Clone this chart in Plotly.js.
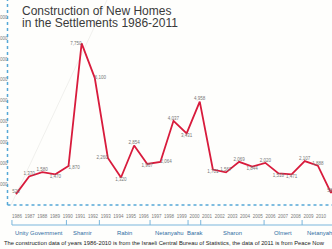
<!DOCTYPE html>
<html>
<head>
<meta charset="utf-8">
<script src="https://cdn.plot.ly/plotly-3.0.1.min.js"></script>
<style>html,body{margin:0;padding:0;background:#fefefc;}#chart{width:332px;height:249px;}</style>
</head>
<body>
<div id="chart"></div>
<script>
// ---- data ----
const years = [1986,1987,1988,1989,1990,1991,1992,1993,1994,1995,1996,1997,1998,1999,2000,2001,2002,2003,2004,2005,2006,2007,2008,2009,2010,2011];
const homes = [520,1370,1580,1470,1870,7750,6100,2260,1320,2854,1967,2064,4037,3431,4958,1701,1567,2069,1844,2020,1518,1471,2107,1888,580,1850];
const tickYears = [1986,1987,1988,1989,1990,1991,1992,1993,1994,1995,1996,1997,1998,1999,2000,2001,2002,2003,2004,2005,2006,2007,2008,2009,2010];
const yTicks = [1000,2000,3000,4000,5000,6000,7000,8000,9000];
const periodNames = ["Unity Government","Shamir","Rabin","Netanyahu","Barak","Sharon","Olmert","Netanyahu"];
const periodBounds = [1985.6,1989.9,1992.5,1996.5,1999.5,2000.5,2005.5,2008.5,2011.5];
const titleLines = ["Construction of New Homes","in the Settlements 1986-2011"];
const caption = "The construction data of years 1986-2010 is from the Israeli Central Bureau of Statistics, the data of 2011 is from Peace Now";

// ---- styles ----
const labelPos = ["top center","top center","top center","bottom center","bottom right","middle left","middle right","middle left","bottom center","top center","bottom center","middle right","top center","bottom center","top center","bottom center","top center","top center","bottom center","top center","bottom center","bottom center","top center","top center","top center","top center"];
const W = 332, PB = 205;
const px = v => v / W;
const py = v => (PB - v) / PB;
const blue = '#55a8d6';
const FONT = 'Liberation Sans, Arial, sans-serif';

const trace = {
  x: years, y: homes, xaxis: 'x2', yaxis: 'y',
  mode: 'lines+text', type: 'scatter',
  line: {color: '#d81b3c', width: 1.8},
  text: homes.map(v => v.toLocaleString('en-US')),
  textposition: labelPos,
  textfont: {family: FONT, size: 4.5, color: '#777'},
  hoverinfo: 'skip', cliponaxis: true
};

const shapes = [
  {type:'line', xref:'paper', yref:'paper', x0:px(11), y0:py(205), x1:px(107), y1:py(0), line:{color:'#f0f0ed', width:1}, layer:'below'},
  {type:'line', xref:'paper', yref:'paper', x0:px(7.5), y0:py(205), x1:px(7.5), y1:1, line:{color:blue, width:1.5, dash:'dot'}},
  {type:'line', xref:'paper', yref:'paper', x0:px(7.5), y0:py(205), x1:1, y1:py(205), line:{color:blue, width:1.5, dash:'dot'}},
  {type:'line', xref:'paper', yref:'paper', x0:px(12), y0:py(225), x1:1, y1:py(225), line:{color:'#7ab6dc', width:1}}
];
periodBounds.slice(0, -1).forEach(b => {
  shapes.push({type:'line', xref:'x', yref:'paper', x0:b, x1:b, y0:py(225), y1:py(220), line:{color:'#7ab6dc', width:1}});
});

const annotations = [
  {text: titleLines[0], xref:'paper', yref:'paper', x:px(20), y:py(11), xanchor:'left', yanchor:'middle', showarrow:false,
   font:{family:FONT, size:12, color:'#3a3a3a'}},
  {text: titleLines[1], xref:'paper', yref:'paper', x:px(20), y:py(22.7), xanchor:'left', yanchor:'middle', showarrow:false,
   font:{family:FONT, size:12, color:'#3a3a3a'}},
  {text: caption, xref:'paper', yref:'paper', x:px(1.5), y:py(243), xanchor:'left', yanchor:'middle', showarrow:false,
   font:{family:FONT, size:5.8, color:'#222'}}
];
periodNames.forEach((n, i) => {
  annotations.push({text:n, xref:'x', yref:'paper', x:(periodBounds[i] + periodBounds[i+1]) / 2, y:py(233),
    xanchor:'center', yanchor:'middle', showarrow:false,
    font:{family:FONT, size:5.9, color:'#2f6da3'}});
});

const layout = {
  width: 332, height: 249,
  margin: {l:0, r:0, t:0, b:249 - PB, pad:0},
  paper_bgcolor: '#fefefc', plot_bgcolor: 'rgba(0,0,0,0)',
  showlegend: false,
  xaxis: {range:[1984.658, 2010.86], tickvals: tickYears, ticktext: tickYears.map(String),
    ticks:'outside', ticklen:7, tickcolor:'rgba(0,0,0,0)', showgrid:false, zeroline:false, showline:false,
    tickfont:{family:FONT, size:4.5, color:'#7a7a7a'}, automargin:false, fixedrange:true},
  xaxis2: {range:[1984.781, 2010.076], overlaying:'x', anchor:'y', visible:false, fixedrange:true},
  yaxis: {range:[0, 9832], tickvals: yTicks, tickformat:',', anchor:'free', position: px(7.5), side:'left',
    showgrid:false, zeroline:false, showline:false, ticks:'', automargin:false, fixedrange:true,
    tickfont:{family:FONT, size:4.5, color:'#7a7a7a'}},
  shapes: shapes,
  annotations: annotations
};

Plotly.newPlot('chart', [trace], layout, {displayModeBar:false, staticPlot:true});
</script>
</body>
</html>
